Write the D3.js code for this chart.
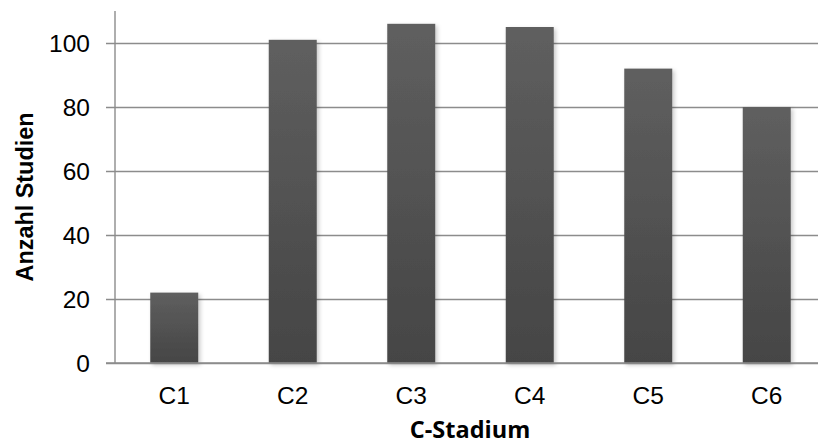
<!DOCTYPE html>
<html>
<head>
<meta charset="utf-8">
<script src="https://cdn.jsdelivr.net/npm/d3@7/dist/d3.min.js"></script>
<style>
  html, body { margin: 0; padding: 0; background: #fff; }
  svg { display: block; }
</style>
</head>
<body>
<svg id="chart" width="818" height="445"></svg>
<script>
// Studies per C-stage
const categories = ["C1", "C2", "C3", "C4", "C5", "C6"];
const studyCounts = [22, 101, 106, 105, 92, 80];
const yTicks = [0, 20, 40, 60, 80, 100];
const yTitle = "Anzahl Studien";
const xTitle = "C-Stadium";

const svg = d3.select("#chart");
const plotLeft = 115, plotRight = 826, plotTop = 11, plotBottom = 363;

const x = d3.scaleBand()
  .domain(categories)
  .range([plotLeft, plotRight])
  .paddingInner(0.595)
  .paddingOuter(0.2975);

const y = d3.scaleLinear().domain([0, 110]).range([plotBottom, plotTop]);

const defs = svg.append("defs");
const grad = defs.append("linearGradient")
  .attr("id", "barFill").attr("x1", 0).attr("y1", 0).attr("x2", 0).attr("y2", 1);
grad.append("stop").attr("offset", "0%").attr("stop-color", "#5f5f5f");
grad.append("stop").attr("offset", "100%").attr("stop-color", "#454545");

const shadow = defs.append("filter").attr("id", "barShadow")
  .attr("x", "-20%").attr("y", "-5%").attr("width", "150%").attr("height", "115%");
shadow.append("feDropShadow")
  .attr("dx", 2).attr("dy", 2).attr("stdDeviation", 2.2)
  .attr("flood-color", "#000").attr("flood-opacity", 0.22);

// horizontal gridlines with left tick marks
const yAxis = d3.axisLeft(y).tickValues(yTicks).tickSize(-(plotRight - plotLeft)).tickPadding(16);
const gy = svg.append("g").attr("transform", `translate(${plotLeft},0)`).call(yAxis);
gy.select(".domain").remove();
gy.selectAll(".tick line")
  .attr("x1", -9)
  .attr("stroke", "#8c8c8c").attr("stroke-width", 1.4);
gy.selectAll(".tick text")
  .attr("font-family", "'Liberation Sans', Arial, sans-serif")
  .attr("font-size", 24.5).attr("fill", "#000").attr("dy", "0.35em").attr("x", -25);

// vertical axis line
svg.append("line")
  .attr("x1", plotLeft).attr("x2", plotLeft).attr("y1", plotTop).attr("y2", plotBottom + 1)
  .attr("stroke", "#8c8c8c").attr("stroke-width", 1.4);

// bars
svg.append("g").selectAll("rect")
  .data(categories.map((c, i) => ({ c, v: studyCounts[i] })))
  .join("rect")
  .attr("x", d => x(d.c))
  .attr("y", d => y(d.v))
  .attr("width", x.bandwidth())
  .attr("height", d => y(0) - y(d.v))
  .attr("fill", "url(#barFill)")
  .attr("filter", "url(#barShadow)");

// baseline
svg.append("line")
  .attr("x1", plotLeft - 9).attr("x2", 818).attr("y1", plotBottom).attr("y2", plotBottom)
  .attr("stroke", "#8c8c8c").attr("stroke-width", 1.4);

// category labels
const xAxis = d3.axisBottom(x).tickSize(0).tickPadding(0);
const gx = svg.append("g").attr("transform", `translate(0,${plotBottom})`).call(xAxis);
gx.select(".domain").remove();
gx.selectAll(".tick text")
  .attr("font-family", "'Liberation Sans', Arial, sans-serif")
  .attr("font-size", 24.5).attr("fill", "#000")
  .attr("dy", 0).attr("y", 41);

// axis titles
svg.append("text")
  .attr("transform", `translate(33,197) rotate(-90)`)
  .attr("text-anchor", "middle")
  .attr("font-family", "'Liberation Sans', Arial, sans-serif")
  .attr("font-weight", "bold").attr("font-size", 23.4)
  .text(yTitle);

svg.append("text")
  .attr("x", 470).attr("y", 438)
  .attr("text-anchor", "middle")
  .attr("font-family", "'Open Sans', sans-serif")
  .attr("font-weight", "bold").attr("font-size", 23.5)
  .text(xTitle);
</script>
</body>
</html>
